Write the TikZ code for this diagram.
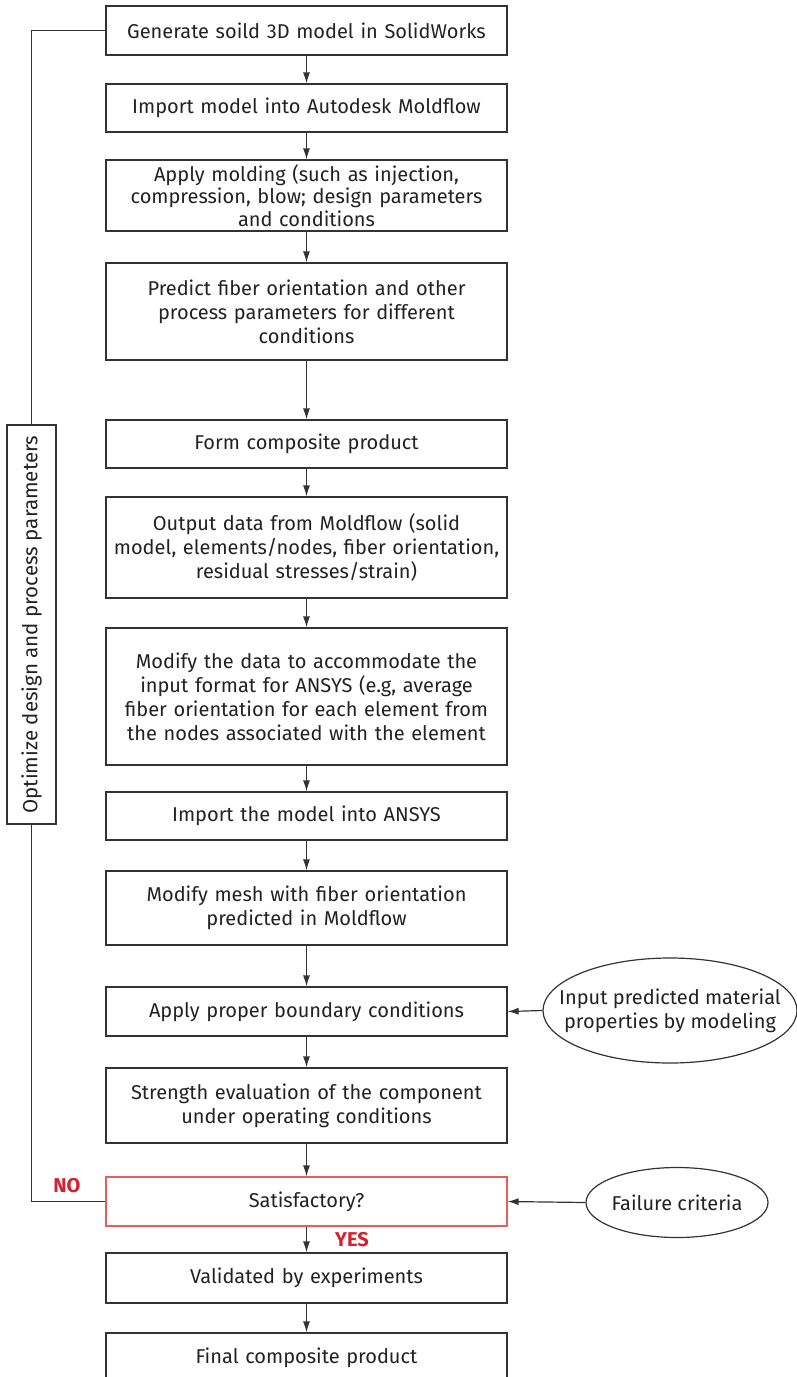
\documentclass[tikz,border=0pt]{standalone}
\usepackage{fontspec}
\setmainfont{Fira Sans}
\usetikzlibrary{arrows.meta,shapes.geometric}
\definecolor{ln}{HTML}{333333}
\definecolor{tx}{HTML}{222222}
\definecolor{redtxt}{HTML}{D42030}
\definecolor{redbox}{HTML}{E06060}
\tikzset{
  box/.style={draw=ln, line width=1.2pt, rectangle, minimum width=401pt, inner sep=0pt, align=center, text=tx, font=\fontsize{20}{24}\selectfont, text width=396pt},
  ell/.style={draw=ln, line width=1.2pt, ellipse, inner xsep=-40pt, inner ysep=-10pt, align=center, text=tx, font=\fontsize{20}{24}\selectfont},
  arr/.style={draw=ln, line width=1.2pt, -{Latex[length=11pt,width=7pt]}},
  lnk/.style={draw=ln, line width=1.2pt},
  lab/.style={text=redtxt, font=\fontsize{20}{22}\selectfont\bfseries, inner sep=0pt}
}
\begin{document}
\begin{tikzpicture}[x=1pt,y=-1pt]
\useasboundingbox (0,0) rectangle (796,1377);
\node[box, minimum height=49pt] (n1) at (306.5,30.5) {Generate soild 3D model in SolidWorks};
\node[box, minimum height=48pt] (n2) at (306.5,108) {Import model into Autodesk Moldflow};
\node[box, minimum height=71pt, font=\fontsize{20}{22.5}\selectfont] (n3) at (306.5,195.5) {Apply molding (such as injection,\\ compression, blow; design parameters\\ and conditions};
\node[box, minimum height=97pt] (n4) at (306.5,311.5) {Predict fiber orientation and other\\ process parameters for different\\ conditions};
\node[box, minimum height=48pt] (n5) at (306.5,444) {Form composite product};
\node[box, minimum height=101pt] (n6) at (306.5,547.5) {Output data from Moldflow (solid\\ model, elements/nodes, fiber orientation,\\ residual stresses/strain)};
\node[box, minimum height=137pt] (n7) at (306.5,696.5) {Modify the data to accommodate the\\ input format for ANSYS (e.g, average\\ fiber orientation for each element from\\ the nodes associated with the element};
\node[box, minimum height=48pt] (n8) at (306.5,816) {Import the model into ANSYS};
\node[box, minimum height=74pt] (n9) at (306.5,908) {Modify mesh with fiber orientation\\ predicted in Moldflow};
\node[box, minimum height=49pt] (n10) at (306.5,1011.5) {Apply proper boundary conditions};
\node[box, minimum height=75pt] (n11) at (306.5,1105.5) {Strength evaluation of the component\\ under operating conditions};
\node[box, draw=redbox, minimum height=49pt] (n12) at (306.5,1201.5) {Satisfactory?};
\node[box, minimum height=50pt] (n13) at (306.5,1278) {Validated by experiments};
\node[box, minimum height=49pt] (n14) at (306.5,1357.5) {Final composite product};
\node[draw=ln, line width=1.2pt, rectangle, rotate=90, minimum width=399pt, minimum height=49pt, inner sep=0pt, text=tx, font=\fontsize{20.5}{24}\selectfont] (opt) at (31.5,624.5) {Optimize design and process parameters};
\node[ell, minimum width=254pt, minimum height=105pt] (e1) at (670,1010.5) {Input predicted material\\ properties by modeling};
\node[ell, minimum width=182pt, minimum height=70pt] (e2) at (677,1202.5) {Failure criteria};
\node[lab] (no) at (67,1186) {NO};
\node[lab] (yes) at (352,1240) {YES};
\foreach \a/\b in {n1/n2,n2/n3,n3/n4,n4/n5,n5/n6,n6/n7,n7/n8,n8/n9,n9/n10,n10/n11,n11/n12,n12/n13,n13/n14}
  \draw[arr] (\a.south) -- (\b.north);
\draw[arr] (e1.west) -- (n10.east);
\draw[arr] (e2.west) -- (n12.east);
\draw[lnk] (n12.west) -| (opt.west);
\draw[lnk] (opt.east) |- (n1.west);
\end{tikzpicture}
\end{document}
